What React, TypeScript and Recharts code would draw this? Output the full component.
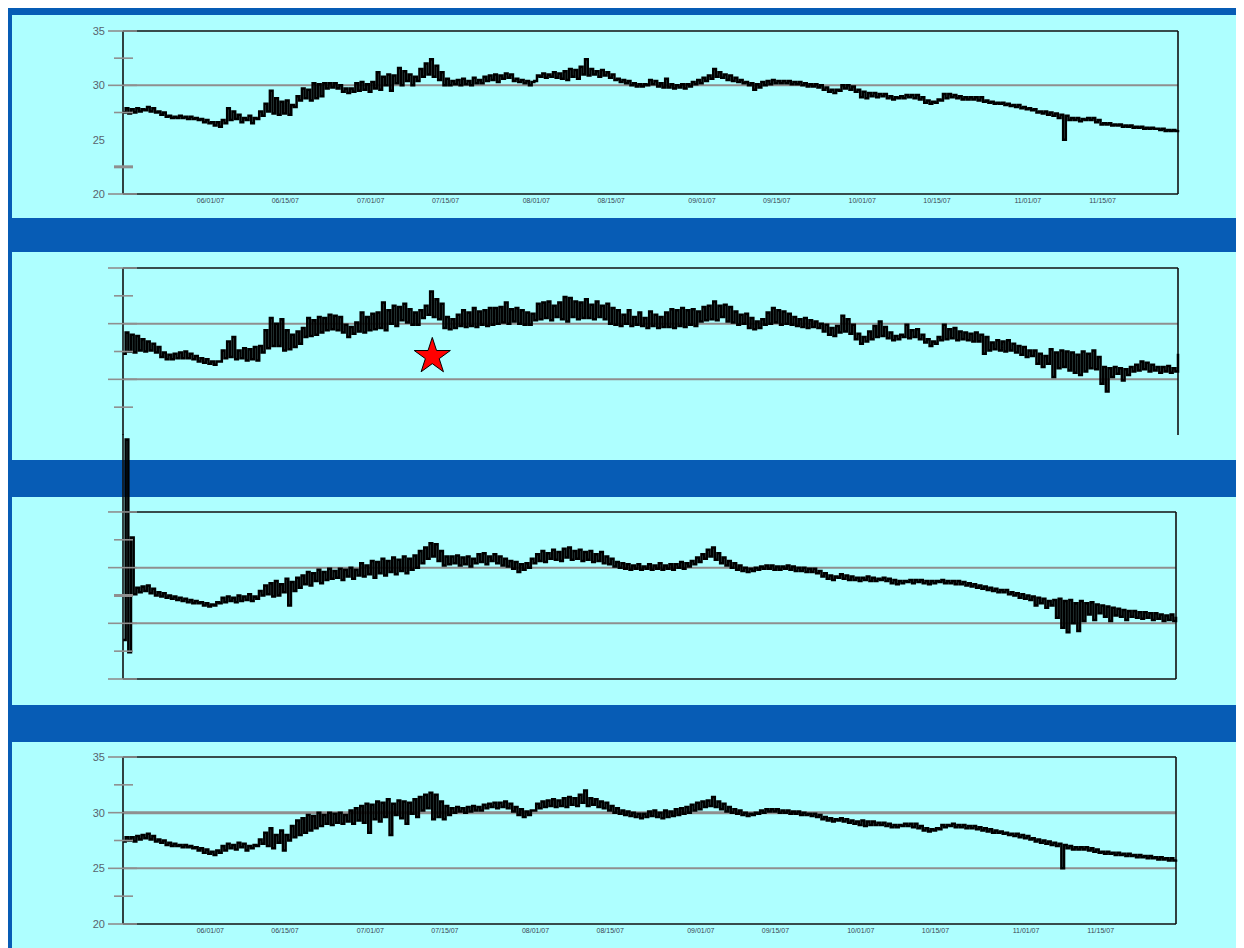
import React from "react";
import {
  ComposedChart,
  Line,
  XAxis,
  YAxis,
  ReferenceLine,
  Scatter,
  Symbols,
} from "recharts";

// four stacked temperature panels, daily low/high readings (day 0 = May 16 2007)

const tickDays = [16, 30, 46, 60, 77, 91, 108, 122, 138, 152, 169, 183];
const tickLabels = [
  "06/01/07", "06/15/07", "07/01/07", "07/15/07", "08/01/07", "08/15/07",
  "09/01/07", "09/15/07", "10/01/07", "10/15/07", "11/01/07", "11/15/07",
];
const yTicks = [20, 22.5, 25, 27.5, 30, 32.5, 35];

const p1Lo = [
  27.5, 27.4, 27.5, 27.6, 27.7, 27.6, 27.5, 27.3, 27.1, 27.0,
  27.0, 27.0, 26.9, 26.9, 26.8, 26.6, 26.5, 26.3, 26.2, 26.5,
  26.8, 26.9, 26.6, 26.8, 26.5, 26.9, 27.2, 27.6, 27.4, 27.3,
  27.4, 27.3, 28.0, 28.6, 28.8, 28.6, 28.8, 29.0, 29.7, 29.8,
  29.7, 29.4, 29.3, 29.4, 29.5, 29.6, 29.4, 29.7, 29.6, 30.0,
  29.5, 30.2, 30.0, 30.4, 30.0, 30.4, 30.8, 31.0, 30.8, 30.5,
  30.0, 30.0, 30.1, 30.0, 30.1, 30.0, 30.2, 30.2, 30.4, 30.5,
  30.3, 30.6, 30.7, 30.4, 30.3, 30.2, 30.0, 30.4, 30.8, 30.7,
  30.8, 30.7, 30.6, 30.5, 30.8, 30.6, 31.0, 30.9, 31.0, 30.8,
  30.9, 30.7, 30.5, 30.3, 30.2, 30.0, 29.9, 29.9, 30.0, 30.1,
  29.9, 29.8, 29.8, 29.7, 29.8, 29.7, 29.9, 30.1, 30.2, 30.4,
  30.6, 30.8, 30.7, 30.5, 30.4, 30.3, 30.2, 30.0, 29.6, 29.8,
  30.0, 30.1, 30.2, 30.2, 30.2, 30.1, 30.1, 30.0, 29.9, 29.9,
  29.8, 29.6, 29.4, 29.3, 29.5, 29.7, 29.6, 29.4, 28.9, 28.8,
  29.0, 28.9, 29.0, 28.8, 28.7, 28.8, 28.8, 28.9, 28.8, 28.7,
  28.4, 28.3, 28.4, 28.6, 28.8, 28.9, 28.8, 28.7, 28.7, 28.7,
  28.6, 28.5, 28.4, 28.3, 28.3, 28.2, 28.1, 28.0, 27.9, 27.8,
  27.7, 27.5, 27.4, 27.3, 27.2, 27.0, 25.0, 26.8, 26.8, 26.7,
  26.8, 26.8, 26.6, 26.4, 26.4, 26.3, 26.3, 26.2, 26.2, 26.1,
  26.1, 26.0, 26.0, 26.0, 25.9, 25.8, 25.8, 25.8,
];
const p1Hi = [
  27.9, 27.8, 27.9, 27.8, 28.0, 27.9, 27.6, 27.5, 27.2, 27.1,
  27.2, 27.1, 27.1, 27.0, 26.9, 26.8, 26.6, 26.6, 26.8, 27.9,
  27.6, 27.3, 27.0, 27.2, 27.0, 27.6, 28.3, 29.5, 28.8, 28.5,
  28.6, 28.2, 29.0, 29.7, 29.6, 30.2, 30.1, 30.2, 30.2, 30.2,
  30.0, 29.7, 29.7, 30.2, 30.3, 30.1, 30.3, 31.2, 30.8, 31.0,
  30.9, 31.6, 31.3, 31.0, 30.8, 31.5, 32.0, 32.4, 31.8, 31.2,
  30.6, 30.4, 30.5, 30.6, 30.4, 30.7, 30.5, 30.8, 30.9, 31.0,
  30.9, 31.1, 31.0, 30.6, 30.5, 30.4, 30.3, 30.9, 31.1, 31.0,
  31.2, 31.1, 31.3, 31.5, 31.4, 31.7, 32.4, 31.5, 31.3, 31.4,
  31.2, 31.0, 30.6, 30.5, 30.4, 30.2, 30.1, 30.1, 30.5, 30.4,
  30.2, 30.6, 30.1, 30.0, 30.1, 30.1, 30.3, 30.5, 30.7, 30.9,
  31.5, 31.2, 31.0, 30.9, 30.7, 30.5, 30.3, 30.2, 30.1, 30.3,
  30.4, 30.5, 30.4, 30.4, 30.4, 30.3, 30.3, 30.2, 30.1, 30.1,
  30.0, 29.8, 29.6, 29.6, 30.0, 30.0, 29.9, 29.6, 29.4, 29.3,
  29.3, 29.2, 29.2, 29.0, 28.9, 29.0, 29.1, 29.1, 29.1, 28.9,
  28.6, 28.5, 28.7, 29.2, 29.2, 29.1, 29.0, 28.9, 28.9, 28.9,
  28.9, 28.6, 28.5, 28.4, 28.4, 28.3, 28.2, 28.2, 28.0, 27.9,
  27.8, 27.6, 27.6, 27.5, 27.4, 27.3, 27.2, 27.0, 27.0, 26.9,
  27.0, 27.0, 26.8, 26.5, 26.5, 26.4, 26.4, 26.3, 26.3, 26.2,
  26.2, 26.1, 26.1, 26.0, 26.0, 25.9, 25.9, 25.9,
];

const p2Lo = [
  27.3, 27.5, 27.4, 27.6, 27.5, 27.6, 27.4, 27.0, 26.8, 26.8,
  26.9, 26.9, 26.9, 26.8, 26.6, 26.5, 26.4, 26.3, 26.6, 26.9,
  27.0, 26.8, 26.9, 26.7, 26.8, 26.7, 27.4, 27.8, 28.0, 28.0,
  27.6, 27.7, 27.9, 28.2, 28.8, 28.9, 29.0, 29.2, 29.4, 29.5,
  29.4, 29.2, 28.8, 29.1, 29.3, 29.2, 29.4, 29.5, 29.6, 29.4,
  30.0, 29.8, 30.3, 30.1, 29.9, 29.9, 30.5, 30.8, 30.6, 30.4,
  29.6, 29.5, 29.6, 29.8, 29.7, 29.8, 29.7, 29.9, 29.8, 29.9,
  30.0, 30.1, 30.0, 30.2, 30.0, 29.9, 29.9, 30.3, 30.4, 30.5,
  30.3, 30.6, 30.4, 30.2, 30.6, 30.4, 30.5, 30.5, 30.4, 30.6,
  30.4, 30.0, 29.9, 29.8, 30.0, 29.8, 29.9, 29.8, 29.6, 29.8,
  29.6, 29.7, 29.7, 29.6, 29.8, 29.7, 29.9, 29.8, 30.2, 30.3,
  30.4, 30.3, 30.6, 30.2, 30.1, 29.9, 30.0, 29.6, 29.5, 29.6,
  29.9, 30.0, 30.1, 29.9, 30.0, 29.9, 29.8, 29.7, 29.6, 29.7,
  29.6, 29.3, 29.0, 28.9, 29.2, 29.3, 29.1, 28.6, 28.2, 28.4,
  28.6, 28.8, 28.9, 28.7, 28.5, 28.6, 28.8, 28.7, 28.8, 28.6,
  28.3, 28.0, 28.2, 28.5, 28.6, 28.7, 28.5, 28.6, 28.5, 28.4,
  28.4, 27.3, 27.6, 27.7, 27.6, 27.5, 27.6, 27.4, 27.2, 27.0,
  27.1, 26.4, 26.1, 26.4, 25.2, 26.0, 26.1, 25.8, 25.6, 25.4,
  25.7, 26.0, 25.9, 24.6, 23.9, 25.2, 25.5, 24.9, 25.4, 25.7,
  25.8, 25.9, 25.7, 25.8, 25.6, 25.7, 25.6, 25.7,
];
const p2Hi = [
  29.2, 29.0, 28.9, 28.6, 28.4, 28.2, 27.9, 27.4, 27.2, 27.3,
  27.4, 27.5, 27.3, 27.1, 26.9, 26.8, 26.6, 26.6, 27.6, 28.4,
  28.8, 27.6, 27.8, 27.7, 27.9, 28.0, 29.4, 30.5, 30.0, 30.4,
  29.4, 29.0, 29.3, 29.6, 30.5, 30.3, 30.6, 30.5, 30.8, 30.7,
  30.6, 29.9, 29.7, 30.1, 31.0, 30.6, 30.9, 31.0, 31.9, 31.2,
  31.6, 31.5, 31.8, 31.3, 31.0, 31.2, 31.6, 32.9, 32.2, 31.8,
  30.6, 30.4, 30.8, 31.2, 31.0, 31.4, 31.1, 31.2, 31.4, 31.4,
  31.5, 31.9, 31.3, 31.4, 31.2, 31.0, 30.9, 31.8, 31.9, 32.0,
  31.6, 31.9, 32.4, 32.3, 32.0, 31.9, 32.2, 31.7, 32.0, 31.6,
  31.8, 31.4, 31.2, 30.8, 31.2, 30.6, 31.0, 30.5, 31.1, 30.8,
  30.6, 31.0, 31.3, 31.2, 31.4, 31.2, 31.3, 31.1, 31.5, 31.6,
  32.0, 31.6, 31.7, 31.5, 31.1, 30.8, 30.9, 30.5, 30.2, 30.4,
  31.0, 31.4, 31.2, 31.1, 30.9, 30.6, 30.4, 30.5, 30.3, 30.2,
  30.0, 29.9, 29.6, 29.8, 30.7, 30.4, 29.9, 29.1, 28.8, 29.3,
  29.8, 30.2, 29.7, 29.2, 28.9, 29.0, 29.9, 29.4, 29.5, 29.0,
  28.6, 28.4, 28.8, 29.9, 29.5, 29.6, 29.3, 29.2, 29.1, 29.2,
  29.0, 28.8, 28.3, 28.5, 28.4, 28.5, 28.2, 28.0, 27.9, 27.6,
  27.6, 27.3, 27.1, 27.7, 27.4, 27.6, 27.5, 27.4, 27.2, 27.5,
  27.3, 27.6, 27.0, 26.1, 26.0, 26.1, 26.0, 25.9, 26.1, 26.3,
  26.6, 26.5, 26.3, 26.1, 26.1, 26.2, 26.0, 27.3,
];

const p3Lo = [
  23.5, 22.4, 27.6, 27.8, 27.9, 27.7, 27.5, 27.4, 27.3, 27.2,
  27.1, 27.0, 26.9, 26.8, 26.8, 26.6, 26.5, 26.6, 26.8, 26.9,
  27.0, 26.9, 27.0, 27.1, 27.0, 27.2, 27.5, 27.6, 27.4, 27.5,
  27.8, 26.6, 27.9, 28.2, 28.5, 28.4, 28.8, 28.6, 28.9, 29.0,
  29.1, 28.9, 29.2, 29.0, 29.3, 29.2, 29.4, 29.1, 29.5, 29.3,
  29.6, 29.4, 29.7, 29.5, 29.8, 30.0, 30.4, 30.8, 31.0, 30.6,
  30.2, 30.3, 30.4, 30.2, 30.3, 30.1, 30.4, 30.5, 30.3, 30.6,
  30.4, 30.2, 30.1, 29.9, 29.6, 29.8, 30.0, 30.4, 30.6, 30.5,
  30.8, 30.7, 30.6, 30.9, 30.7, 30.8, 30.6, 30.7, 30.5, 30.6,
  30.4, 30.3, 30.1, 30.0, 29.9, 29.8, 29.9, 29.8, 29.9, 29.8,
  29.9, 29.8, 29.9, 29.8, 30.0, 29.9, 30.1, 30.3, 30.5, 30.8,
  31.0, 30.7, 30.4, 30.2, 30.0, 29.8, 29.7, 29.6, 29.7, 29.8,
  29.9, 29.9, 29.8, 29.8, 29.9, 29.8, 29.7, 29.7, 29.6, 29.6,
  29.5, 29.2, 29.0, 28.9, 29.1, 29.0, 28.9, 28.9, 28.8, 28.9,
  28.8, 28.8, 28.9, 28.8, 28.6, 28.5, 28.6, 28.7, 28.6, 28.7,
  28.6, 28.5, 28.6, 28.7, 28.6, 28.6, 28.5, 28.5, 28.4, 28.3,
  28.2, 28.1, 28.0, 27.9, 27.8, 27.8, 27.6, 27.5, 27.3, 27.2,
  27.1, 26.6, 26.8, 26.4, 26.6, 25.5, 24.6, 24.2, 25.0, 24.3,
  25.2, 25.8, 25.3, 25.9, 25.6, 25.2, 25.7, 25.6, 25.3, 25.6,
  25.5, 25.4, 25.5, 25.3, 25.4, 25.2, 25.3, 25.2,
];
const p3Hi = [
  41.5, 32.7, 28.2, 28.3, 28.4, 28.1, 27.8, 27.7, 27.5, 27.4,
  27.3, 27.2, 27.1, 27.0, 26.9, 26.8, 26.7, 26.9, 27.3, 27.4,
  27.3, 27.5, 27.4, 27.6, 27.4, 27.9, 28.4, 28.6, 28.8, 28.5,
  29.0, 28.7, 29.1, 29.3, 29.6, 29.5, 29.8, 29.6, 29.9, 29.7,
  29.9, 29.8, 30.0, 29.8, 30.4, 30.2, 30.6, 30.5, 30.8, 30.6,
  30.9, 30.7, 31.0, 30.8, 31.1, 31.5, 31.8, 32.2, 32.1, 31.5,
  31.0, 31.0, 31.1, 30.9, 31.0, 30.8, 31.2, 31.3, 31.0, 31.2,
  31.0, 30.8, 30.6, 30.5, 30.3, 30.4, 30.8, 31.2, 31.5, 31.3,
  31.6, 31.4, 31.7, 31.8, 31.5, 31.6, 31.4, 31.5, 31.2, 31.4,
  31.0, 30.8, 30.5, 30.4, 30.3, 30.2, 30.3, 30.1, 30.3, 30.2,
  30.4, 30.2, 30.3, 30.3, 30.5, 30.4, 30.6, 30.9, 31.2, 31.6,
  31.8, 31.3, 30.9, 30.6, 30.4, 30.2, 30.0, 29.9, 30.0, 30.1,
  30.2, 30.2, 30.1, 30.1, 30.2, 30.1, 30.0, 30.0, 29.9, 29.9,
  29.7, 29.5, 29.3, 29.2, 29.4, 29.3, 29.2, 29.1, 29.1, 29.2,
  29.1, 29.0, 29.1, 29.0, 28.9, 28.8, 28.8, 28.9, 28.9, 28.9,
  28.8, 28.8, 28.8, 28.9, 28.8, 28.8, 28.8, 28.7, 28.6, 28.5,
  28.4, 28.3, 28.2, 28.1, 28.0, 28.0, 27.8, 27.7, 27.6, 27.5,
  27.4, 27.3, 27.2, 27.0, 27.1, 27.2, 27.0, 27.1, 26.8, 27.0,
  26.8, 26.9, 26.7, 26.6, 26.5, 26.4, 26.3, 26.2, 26.1, 26.1,
  26.0, 26.0, 25.9, 25.9, 25.8, 25.7, 25.8, 25.6,
];

const p4Lo = [
  27.4, 27.5, 27.4, 27.6, 27.7, 27.6, 27.4, 27.3, 27.1, 27.0,
  27.0, 26.9, 26.9, 26.8, 26.6, 26.4, 26.3, 26.2, 26.4, 26.6,
  26.8, 26.7, 26.9, 26.6, 26.8, 27.0, 27.2, 27.0, 26.8, 27.3,
  26.6, 27.5, 27.8, 28.0, 28.2, 28.4, 28.6, 28.8, 29.0, 28.9,
  29.1, 29.0, 29.2, 29.0, 29.3, 29.1, 28.2, 29.4, 29.2, 29.6,
  28.0, 29.8, 29.5, 29.0, 29.9, 29.6, 30.2, 30.4, 29.4, 29.6,
  29.4, 29.8, 30.0, 30.1, 30.0, 30.1, 30.2, 30.2, 30.4, 30.5,
  30.4, 30.5, 30.4, 30.1, 29.8, 29.6, 29.8, 30.2, 30.4, 30.5,
  30.6, 30.5, 30.6, 30.5, 30.7, 30.6, 30.9, 30.6, 30.7, 30.5,
  30.4, 30.2, 30.0, 29.9, 29.8, 29.7, 29.6, 29.5, 29.6, 29.7,
  29.6, 29.5, 29.6, 29.7, 29.8, 29.9, 30.0, 30.2, 30.3, 30.5,
  30.6, 30.5, 30.3, 30.1, 30.0, 29.9, 29.8, 29.7, 29.8, 29.9,
  30.0, 30.1, 30.1, 30.0, 30.0, 29.9, 29.9, 29.8, 29.8, 29.7,
  29.6, 29.4, 29.3, 29.2, 29.3, 29.2, 29.1, 29.0, 28.9, 28.8,
  28.9, 28.9, 28.9, 28.8, 28.7, 28.7, 28.8, 28.8, 28.7, 28.6,
  28.4, 28.3, 28.4, 28.5, 28.7, 28.8, 28.7, 28.7, 28.6, 28.6,
  28.5, 28.4, 28.3, 28.2, 28.2, 28.1, 28.0, 27.9, 27.8, 27.7,
  27.6, 27.4, 27.3, 27.2, 27.1, 27.0, 25.0, 26.8, 26.7, 26.7,
  26.7, 26.6, 26.5, 26.4, 26.3, 26.3, 26.2, 26.2, 26.1, 26.1,
  26.0, 26.0, 25.9, 25.9, 25.8, 25.8, 25.7, 25.7,
];
const p4Hi = [
  27.8, 27.8, 27.9, 28.0, 28.1, 27.9, 27.6, 27.5, 27.3, 27.2,
  27.1, 27.1, 27.0, 26.9, 26.8, 26.7, 26.5, 26.6, 27.0, 27.2,
  27.1, 27.3, 27.2, 27.0, 27.1, 27.6, 28.2, 28.6, 28.0, 28.4,
  28.0, 28.8, 29.3, 29.5, 29.8, 29.7, 30.0, 29.8, 30.0, 29.9,
  30.0, 29.8, 30.2, 30.4, 30.6, 30.8, 30.7, 31.0, 30.9, 31.2,
  30.8, 31.1, 31.0, 30.9, 31.2, 31.4, 31.6, 31.8, 31.6, 31.0,
  30.6, 30.4, 30.5, 30.4, 30.5, 30.6, 30.5, 30.7, 30.8, 30.9,
  30.9, 31.0, 30.8, 30.5, 30.3, 30.1, 30.2, 30.8, 31.0, 31.1,
  31.2, 31.1, 31.3, 31.4, 31.3, 31.6, 32.0, 31.3, 31.2, 31.0,
  30.9, 30.6, 30.4, 30.2, 30.1, 30.0, 29.9, 29.9, 30.1, 30.2,
  30.0, 30.2, 30.1, 30.3, 30.4, 30.5, 30.7, 30.9, 31.0, 31.1,
  31.4, 31.0, 30.8, 30.5, 30.3, 30.2, 30.0, 29.9, 30.0, 30.2,
  30.3, 30.3, 30.3, 30.2, 30.2, 30.1, 30.1, 30.0, 29.9, 29.9,
  29.8, 29.6, 29.5, 29.4, 29.5, 29.4, 29.3, 29.2, 29.3, 29.2,
  29.2, 29.1, 29.1, 29.0, 28.9, 28.9, 29.0, 29.0, 29.0, 28.8,
  28.6, 28.5, 28.6, 28.9, 28.9, 29.0, 28.9, 28.9, 28.8, 28.8,
  28.7, 28.6, 28.5, 28.4, 28.3, 28.2, 28.1, 28.1, 28.0, 27.9,
  27.7, 27.6, 27.5, 27.4, 27.3, 27.2, 27.1, 27.0, 26.9, 26.9,
  26.9, 26.8, 26.7, 26.5, 26.5, 26.4, 26.4, 26.3, 26.3, 26.2,
  26.2, 26.1, 26.1, 26.0, 26.0, 25.9, 25.9, 25.8,
];

// the red star marked on the second panel
const starDay = [57.9];
const starValue = [27.06];

const BLUE = "#075cb5";
const CYAN = "#aeffff";
const X_MAX = 197.5;

type TickStyle = { major?: boolean; minor?: boolean; thick?: boolean; label?: boolean };

const toPoints = (lo: number[], hi: number[]) =>
  lo.flatMap((v, i) => [
    { t: i, v },
    { t: i + 0.5, v: hi[i] },
  ]);

const renderYTick = (styles: Record<number, TickStyle>) => (props: any) => {
  const { x, y, payload } = props;
  const s = styles[payload.value] || {};
  let l = 0;
  let r = 0;
  if (s.major) {
    l = 15;
    r = 14;
  } else if (s.minor) {
    l = 9;
    r = 10;
  }
  return (
    <g>
      {l > 0 && (
        <line x1={x - l} x2={x + r} y1={y} y2={y} stroke="#8f8f8f" strokeWidth={s.thick ? 3 : 1.6} />
      )}
      {s.label && (
        <text x={x - 18} y={y} dy={4} textAnchor="end" fontSize={11} fill="#59636d" fontFamily="Liberation Sans">
          {payload.value}
        </text>
      )}
    </g>
  );
};

const renderXTick = (props: any) => {
  const { x, y, payload } = props;
  const i = tickDays.indexOf(payload.value);
  return (
    <text x={x + 2} y={y + 9} textAnchor="middle" fontSize={7} fill="#3a4552" fontFamily="Liberation Sans">
      {tickLabels[i]}
    </text>
  );
};

function Panel({
  lo,
  hi,
  top,
  height,
  mTop,
  mBottom,
  mRight,
  yMax,
  tickStyles,
  showX,
  frameBottom,
  grid,
  grid30Width = 2,
  star,
}: {
  lo: number[];
  hi: number[];
  top: number;
  height: number;
  mTop: number;
  mBottom: number;
  mRight: number;
  yMax: number;
  tickStyles: Record<number, TickStyle>;
  showX: boolean;
  frameBottom: boolean;
  grid: number[];
  grid30Width?: number;
  star?: boolean;
}) {
  const data = toPoints(lo, hi);
  const starPts = star ? starDay.map((t, i) => ({ t, v: starValue[i] })) : [];
  return (
    <div style={{ position: "absolute", left: 0, top }}>
      <ComposedChart
        width={1236}
        height={height}
        data={data}
        margin={{ top: mTop, right: mRight, bottom: mBottom, left: 0 }}
      >
        <XAxis
          type="number"
          dataKey="t"
          domain={[0, X_MAX]}
          ticks={tickDays}
          interval={0}
          hide={!showX}
          height={20}
          axisLine={false}
          tickLine={false}
          tickSize={0}
          tickMargin={0}
          tick={renderXTick}
        />
        <YAxis
          type="number"
          domain={[20, yMax]}
          ticks={yTicks}
          interval={0}
          width={115}
          axisLine={{ stroke: "#111", strokeWidth: 1.6 }}
          tickLine={false}
          tickSize={0}
          tickMargin={0}
          tick={renderYTick(tickStyles)}
        />
        {grid.map((g) => (
          <ReferenceLine
            key={g}
            y={g}
            stroke="#8f8f8f"
            strokeWidth={g === 30 ? grid30Width : 2}
          />
        ))}
        <ReferenceLine segment={[{ x: 0, y: 35 }, { x: X_MAX, y: 35 }]} stroke="#111" strokeWidth={1.6} />
        {frameBottom && (
          <ReferenceLine segment={[{ x: 0, y: 20 }, { x: X_MAX, y: 20 }]} stroke="#111" strokeWidth={1.6} />
        )}
        <ReferenceLine segment={[{ x: X_MAX, y: 20 }, { x: X_MAX, y: 35 }]} stroke="#111" strokeWidth={1.6} />
        <Line
          type="stepAfter"
          dataKey="v"
          stroke="#000"
          strokeWidth={2.5}
          dot={false}
          activeDot={false}
          isAnimationActive={false}
        />
        {star && (
          <Scatter
            data={starPts}
            dataKey="v"
            isAnimationActive={false}
            shape={(p: any) => (
              <Symbols cx={p.cx} cy={p.cy} type="star" size={405} fill="#ff0000" stroke="#000" strokeWidth={1} />
            )}
          />
        )}
      </ComposedChart>
    </div>
  );
}

export default function App() {
  return (
    <div
      style={{
        position: "relative",
        width: 1236,
        height: 940,
        background: BLUE,
        overflow: "hidden",
        fontFamily: "Liberation Sans",
      }}
    >
      <div style={{ position: "absolute", left: 4, top: 7, width: 1228, height: 203, background: CYAN }} />
      <div style={{ position: "absolute", left: 4, top: 244, width: 1228, height: 208, background: CYAN }} />
      <div style={{ position: "absolute", left: 4, top: 489, width: 1228, height: 208, background: CYAN }} />
      <div style={{ position: "absolute", left: 4, top: 734, width: 1228, height: 206, background: CYAN }} />

      <Panel
        lo={p1Lo}
        hi={p1Hi}
        top={0}
        height={220}
        mTop={23}
        mBottom={14}
        mRight={66}
        yMax={35}
        showX
        frameBottom
        grid={[30]}
        tickStyles={{
          20: { major: true, label: true },
          22.5: { minor: true, thick: true },
          25: { label: true },
          27.5: { minor: true },
          30: { major: true, label: true },
          32.5: { minor: true },
          35: { major: true, label: true },
        }}
      />
      <Panel
        lo={p2Lo}
        hi={p2Hi}
        top={240}
        height={200}
        mTop={20}
        mBottom={13}
        mRight={66}
        yMax={35}
        showX={false}
        frameBottom={false}
        grid={[30, 25]}
        star
        tickStyles={{
          22.5: { minor: true },
          25: { major: true },
          27.5: { minor: true },
          30: { major: true },
          32.5: { minor: true },
          35: { major: true },
        }}
      />
      <Panel
        lo={p3Lo}
        hi={p3Hi}
        top={400}
        height={290}
        mTop={26}
        mBottom={19}
        mRight={68}
        yMax={42}
        showX={false}
        frameBottom
        grid={[30, 25]}
        tickStyles={{
          20: { major: true },
          22.5: { minor: true },
          25: { major: true },
          27.5: { minor: true, thick: true },
          30: { major: true },
          32.5: { minor: true },
          35: { major: true },
        }}
      />
      <Panel
        lo={p4Lo}
        hi={p4Hi}
        top={730}
        height={210}
        mTop={19}
        mBottom={4}
        mRight={68}
        yMax={35}
        showX
        frameBottom
        grid={[30, 25]}
        grid30Width={3}
        tickStyles={{
          20: { major: true, label: true },
          22.5: { minor: true },
          25: { major: true, label: true },
          27.5: { minor: true },
          30: { major: true, label: true },
          32.5: { minor: true },
          35: { major: true, label: true },
        }}
      />
    </div>
  );
}
